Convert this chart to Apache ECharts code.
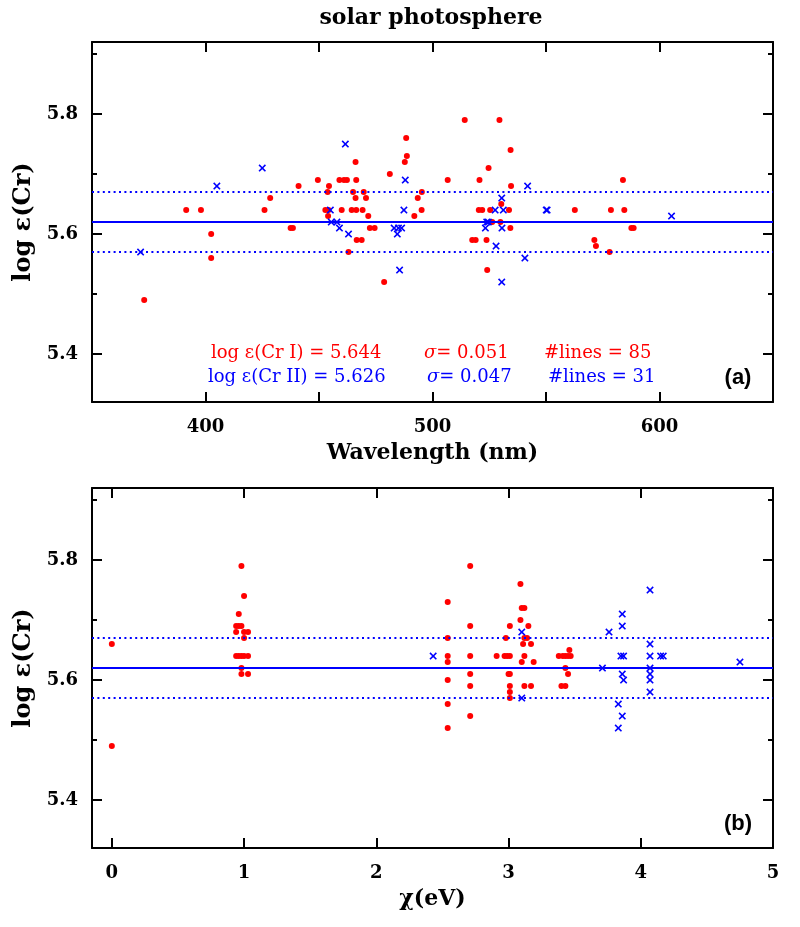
<!DOCTYPE html>
<html>
<head>
<meta charset="utf-8">
<script src="https://cdn.jsdelivr.net/npm/echarts@6/dist/echarts.min.js"></script>
<style>html,body{margin:0;padding:0;background:#fff}#c{width:800px;height:927px}</style>
</head>
<body>
<div id="c"></div>
<script>
// ---- data: panel (a), abundance vs wavelength ----
const crIWavelength = [373,391.5,398,402.5,402.5,426,428.5,437.5,438.5,441,449.5,452.8,453.8,454,454.2,454.4,459,460,461,462.3,463,464.4,465,466.1,466.1,466.4,466.4,466.6,468.8,469.2,469.7,470.7,471.7,472.4,474.5,478.7,481.2,487.8,488.4,488.7,492,493.5,495.2,495.3,506.7,514.2,517.5,519,520.4,520.7,521.9,523.8,524.1,524.7,525.4,526.3,529.5,529.9,530.3,533.7,534.3,534.4,534.6,562.7,571.3,572,578,578.6,583.9,584.5,587.6,588.6];
const crIAbundWl = [5.49,5.64,5.64,5.60,5.56,5.64,5.66,5.61,5.61,5.68,5.69,5.64,5.67,5.63,5.64,5.68,5.69,5.64,5.69,5.69,5.57,5.64,5.67,5.66,5.72,5.69,5.64,5.59,5.59,5.64,5.67,5.66,5.63,5.61,5.61,5.52,5.70,5.72,5.76,5.73,5.63,5.66,5.64,5.67,5.69,5.79,5.59,5.59,5.64,5.69,5.64,5.59,5.54,5.71,5.64,5.62,5.79,5.62,5.65,5.64,5.61,5.74,5.68,5.64,5.59,5.58,5.57,5.64,5.69,5.64,5.61,5.61];
const crIIWavelength = [371.4,405,425,455,455.4,457.9,459,461.6,463,483.1,484.5,485,485.5,486.4,487.4,488,523.3,523.9,524.6,527.6,528,530.5,530.5,530.6,531.2,540.7,541.9,550.1,550.5,605.3];
const crIIAbundWl = [5.57,5.68,5.71,5.64,5.62,5.62,5.61,5.75,5.60,5.61,5.60,5.61,5.54,5.61,5.64,5.69,5.61,5.62,5.62,5.64,5.58,5.66,5.52,5.61,5.64,5.56,5.68,5.64,5.64,5.63];
// ---- data: panel (b), abundance vs excitation potential ----
const crIChi = [0,0,0.98,1.00,0.96,0.94,0.96,0.98,0.94,1.00,1.03,1.00,0.94,0.96,0.98,1.00,1.03,0.98,0.98,1.03,2.54,2.54,2.54,2.54,2.54,2.54,2.54,2.71,2.71,2.71,2.71,2.71,2.71,2.91,2.97,2.99,3.01,3.01,2.98,3.00,3.01,3.01,3.01,3.01,3.09,3.10,3.12,3.09,3.15,3.12,3.14,3.11,3.17,3.12,3.10,3.19,3.12,3.17,3.38,3.41,3.43,3.45,3.47,3.46,3.43,3.45,3.40,3.43];
const crIAbundChi = [5.66,5.49,5.79,5.74,5.71,5.69,5.69,5.69,5.68,5.68,5.68,5.67,5.64,5.64,5.64,5.64,5.64,5.62,5.61,5.61,5.73,5.67,5.64,5.63,5.60,5.56,5.52,5.79,5.69,5.64,5.61,5.59,5.54,5.64,5.64,5.64,5.64,5.69,5.67,5.61,5.61,5.59,5.58,5.57,5.76,5.72,5.72,5.70,5.69,5.67,5.67,5.66,5.66,5.64,5.63,5.63,5.59,5.59,5.64,5.64,5.64,5.64,5.64,5.65,5.62,5.61,5.59,5.59];
const crIIChi = [2.43,3.10,3.10,3.71,3.76,3.86,3.86,3.85,3.87,3.86,3.87,3.83,3.86,3.83,4.07,4.07,4.07,4.07,4.07,4.07,4.07,4.15,4.17,4.75];
const crIIAbundChi = [5.64,5.68,5.57,5.62,5.68,5.71,5.69,5.64,5.64,5.61,5.60,5.56,5.54,5.52,5.75,5.66,5.64,5.62,5.61,5.60,5.58,5.64,5.64,5.63];
// ---- reference lines (mean and +/- sigma) ----
const meanLine = 5.624;
const sigmaBand = 0.049;
// ---- axis ticks ----
const wlRange = [350, 650];
const chiRange = [-0.15, 5];
const abundRange = [5.32, 5.92];
const abundMajorTicks = [5.4, 5.6, 5.8];
const abundMinorTicks = [5.5, 5.7, 5.9];
const chiTicks = [0, 1, 2, 3, 4, 5];
// ---- annotation texts ----
const statsCrI = ['log \u03b5(Cr I) = 5.644', '0.051', '#lines = 85'];
const statsCrII = ['log \u03b5(Cr II) = 5.626', '0.047', '#lines = 31'];

const pair = (xs, ys) => xs.map((x, i) => [x, ys[i]]);
const FONT = 'DejaVu Serif';
const RED = '#ff0000', BLUE = '#0000ff';
const CROSS = 'path://M0,1.5L1.5,0L5,3.5L8.5,0L10,1.5L6.5,5L10,8.5L8.5,10L5,6.5L1.5,10L0,8.5L3.5,5Z';

const grids = [
  {left: 92, top: 42, width: 681, height: 360},
  {left: 92, top: 488, width: 681, height: 360},
  {left: 92, top: 42, width: 681, height: 360},
  {left: 92, top: 488, width: 681, height: 360}
];
const lineStyleFrame = {color: '#000', width: 2};
const tickLabel = {fontFamily: FONT, fontSize: 18, fontWeight: 'bold', color: '#000'};
const nameStyle = {fontFamily: FONT, fontSize: 22, fontWeight: 'bold', color: '#000'};

function yMain(gi, pos, labels) {
  return {
    type: 'value', gridIndex: gi, position: pos, min: abundRange[0], max: abundRange[1],
    axisLine: {show: true, onZero: false, lineStyle: lineStyleFrame},
    axisTick: {show: true, inside: true, length: 10, lineStyle: {width: 2, color: '#000'}, customValues: abundMajorTicks},
    axisLabel: labels ? Object.assign({show: true, margin: 14, customValues: abundMajorTicks, formatter: v => v.toFixed(1)}, tickLabel) : {show: false},
    splitLine: {show: false},
    name: labels ? 'log \u03b5(Cr)' : '', nameLocation: 'middle', nameGap: 50, nameRotate: 90,
    nameTextStyle: Object.assign({}, nameStyle, {fontSize: 24})
  };
}
function yMinor(gi, pos) {
  return {
    type: 'value', gridIndex: gi, position: pos, min: abundRange[0], max: abundRange[1],
    axisLine: {show: false, onZero: false},
    axisTick: {show: true, inside: true, length: 5, lineStyle: {width: 2, color: '#000'}, customValues: abundMinorTicks},
    axisLabel: {show: false}, splitLine: {show: false}
  };
}
function xAxisDef(gi, pos, range, extra) {
  return Object.assign({
    type: 'value', gridIndex: gi, position: pos, min: range[0], max: range[1],
    axisLine: {show: true, onZero: false, lineStyle: lineStyleFrame},
    splitLine: {show: false}
  }, extra);
}

const option = {
  animation: false,
  backgroundColor: '#fff',
  grid: grids,
  xAxis: [
    xAxisDef(0, 'bottom', wlRange, {interval: 50,
      axisTick: {show: true, inside: true, length: 10, lineStyle: {width: 2, color: '#000'}},
      axisLabel: Object.assign({margin: 16, formatter: v => (v % 100 === 0 && v > wlRange[0] && v < wlRange[1]) ? String(v) : ''}, tickLabel),
      name: 'Wavelength (nm)', nameLocation: 'middle', nameGap: 40, nameTextStyle: nameStyle}),
    xAxisDef(0, 'top', wlRange, {interval: 50,
      axisTick: {show: true, inside: true, length: 10, lineStyle: {width: 2, color: '#000'}},
      axisLabel: {show: false}}),
    xAxisDef(1, 'bottom', chiRange, {
      axisTick: {show: true, inside: true, length: 10, lineStyle: {width: 2, color: '#000'}, customValues: chiTicks},
      axisLabel: Object.assign({margin: 16, customValues: chiTicks, formatter: v => String(Math.round(v))}, tickLabel),
      name: '\u03c7(eV)', nameLocation: 'middle', nameGap: 40, nameTextStyle: nameStyle}),
    xAxisDef(1, 'top', chiRange, {
      axisTick: {show: true, inside: true, length: 10, lineStyle: {width: 2, color: '#000'}, customValues: chiTicks},
      axisLabel: {show: false}}),
    {type: 'value', gridIndex: 2, min: 0, max: 1, show: false},
    {type: 'value', gridIndex: 3, min: 0, max: 1, show: false}
  ],
  yAxis: [
    yMain(0, 'left', true), yMain(0, 'right', false),
    yMain(1, 'left', true), yMain(1, 'right', false),
    yMinor(2, 'left'), yMinor(2, 'right'),
    yMinor(3, 'left'), yMinor(3, 'right')
  ],
  series: [],
  graphic: []
};

function refLines() {
  return {
    silent: true, symbol: 'none', label: {show: false},
    data: [
      {yAxis: meanLine, lineStyle: {type: 'solid', width: 2, color: BLUE}},
      {yAxis: meanLine + sigmaBand, lineStyle: {type: [2, 3.4], width: 2, color: BLUE}},
      {yAxis: meanLine - sigmaBand, lineStyle: {type: [2, 3.4], width: 2, color: BLUE}}
    ]
  };
}
function panel(xi, yi, redData, blueData) {
  option.series.push({
    type: 'scatter', xAxisIndex: xi, yAxisIndex: yi, data: redData,
    symbol: 'circle', symbolSize: 6, itemStyle: {color: RED, opacity: 1},
    markLine: refLines(), z: 3
  });
  option.series.push({
    type: 'scatter', xAxisIndex: xi, yAxisIndex: yi, data: blueData,
    symbol: CROSS, symbolSize: 7.5, itemStyle: {color: BLUE, opacity: 1}, z: 4
  });
}
panel(0, 0, pair(crIWavelength, crIAbundWl), pair(crIIWavelength, crIIAbundWl));
panel(2, 2, pair(crIChi, crIAbundChi), pair(crIIChi, crIIAbundChi));

const txt = (x, y, s, color, size, align, weight, family) => ({
  type: 'text', x: x, y: y, silent: true,
  style: {text: s, fill: color, font: (weight || 'normal') + ' ' + size + 'px "' + (family || FONT) + '"', textAlign: align || 'left', textVerticalAlign: 'middle'}
});
const sigmaTxt = (x, y, val, color) => ({
  type: 'text', x: x, y: y, silent: true,
  style: {
    text: '{i|\u03c3}= ' + val, fill: color, fontFamily: FONT, fontSize: 18, textVerticalAlign: 'middle',
    rich: {i: {fontFamily: FONT, fontSize: 18, fontStyle: 'italic', fill: color}}
  }
});
option.graphic = [
  txt(431, 18, 'solar photosphere', '#000', 22, 'center', 'bold'),
  txt(211, 353, statsCrI[0], RED, 18),
  sigmaTxt(424, 353, statsCrI[1], RED),
  txt(544, 353, statsCrI[2], RED, 18),
  txt(208, 377, statsCrII[0], BLUE, 18),
  sigmaTxt(427, 377, statsCrII[1], BLUE),
  txt(548, 377, statsCrII[2], BLUE, 18),
  txt(738, 378, '(a)', '#000', 22, 'center', 'bold', 'Liberation Sans'),
  txt(738, 824, '(b)', '#000', 22, 'center', 'bold', 'Liberation Sans')
];

const chart = echarts.init(document.getElementById('c'), null, {renderer: 'canvas'});
chart.setOption(option);
</script>
</body>
</html>
